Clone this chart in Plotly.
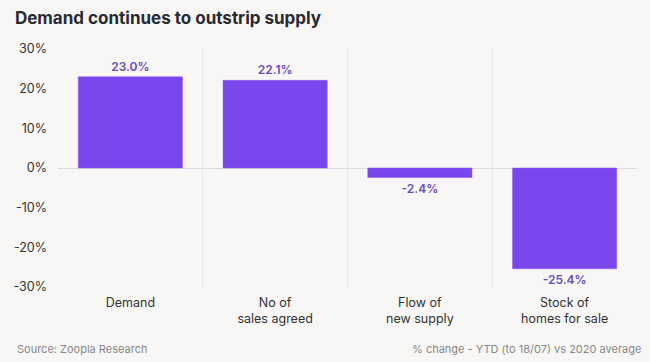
import plotly.graph_objects as go

categories = ["Demand", "No of<br>sales agreed", "Flow of<br>new supply", "Stock of<br>homes for sale"]
values = [23.0, 22.1, -2.4, -25.4]
value_labels = ["23.0%", "22.1%", "-2.4%", "-25.4%"]
y_ticks = [-30, -20, -10, 0, 10, 20, 30]

bg = "#f8f7f5"
font_family = "Inter, Lato, sans-serif"

fig = go.Figure(go.Bar(
    x=categories, y=values,
    text=value_labels, textposition="outside",
    textfont=dict(color="#6a4cb5", size=12, family=font_family, weight=600),
    marker=dict(color="#7b45ee", line=dict(color="#8a5cf0", width=0.5)),
    width=0.72, cliponaxis=False,
))

fig.update_layout(
    width=650, height=362,
    paper_bgcolor=bg, plot_bgcolor=bg,
    margin=dict(l=58, r=13, t=49, b=75),
    showlegend=False,
    font=dict(family=font_family, color="#333333"),
    title=dict(text="<b>Demand continues to outstrip supply</b>", x=0.023, xanchor="left",
               xref="container", yref="container",
               y=0.950, yanchor="middle",
               font=dict(size=17, color="#2a2a33", family=font_family)),
    annotations=[
        dict(text="Source: Zoopla Research", x=-0.074, y=-0.26, xref="paper", yref="paper",
             xanchor="left", yanchor="middle", showarrow=False,
             font=dict(size=11, color="#888888", family=font_family)),
        dict(text="% change - YTD (to 18/07) vs 2020 average", x=1.01, y=-0.26, xref="paper", yref="paper",
             xanchor="right", yanchor="middle", showarrow=False,
             font=dict(size=11, color="#888888", family=font_family)),
    ],
)

fig.update_xaxes(
    tickson="boundaries", showgrid=True, gridcolor="#ebe9e7", gridwidth=1,
    showline=False, ticks="", tickfont=dict(size=12.5, color="#333333"),
    ticklabelstandoff=6,
)
fig.update_yaxes(
    range=[-30, 30], tickvals=y_ticks, ticktext=[f"{v}%" for v in y_ticks],
    showgrid=False, zeroline=True, zerolinecolor="#dddbd9", zerolinewidth=1,
    tickfont=dict(size=12.5, color="#333333"), ticklabelstandoff=10,
)

fig.write_html("out.html", config={"displayModeBar": False},
               post_script="document.body.style.margin='0';document.body.style.overflow='hidden';")
